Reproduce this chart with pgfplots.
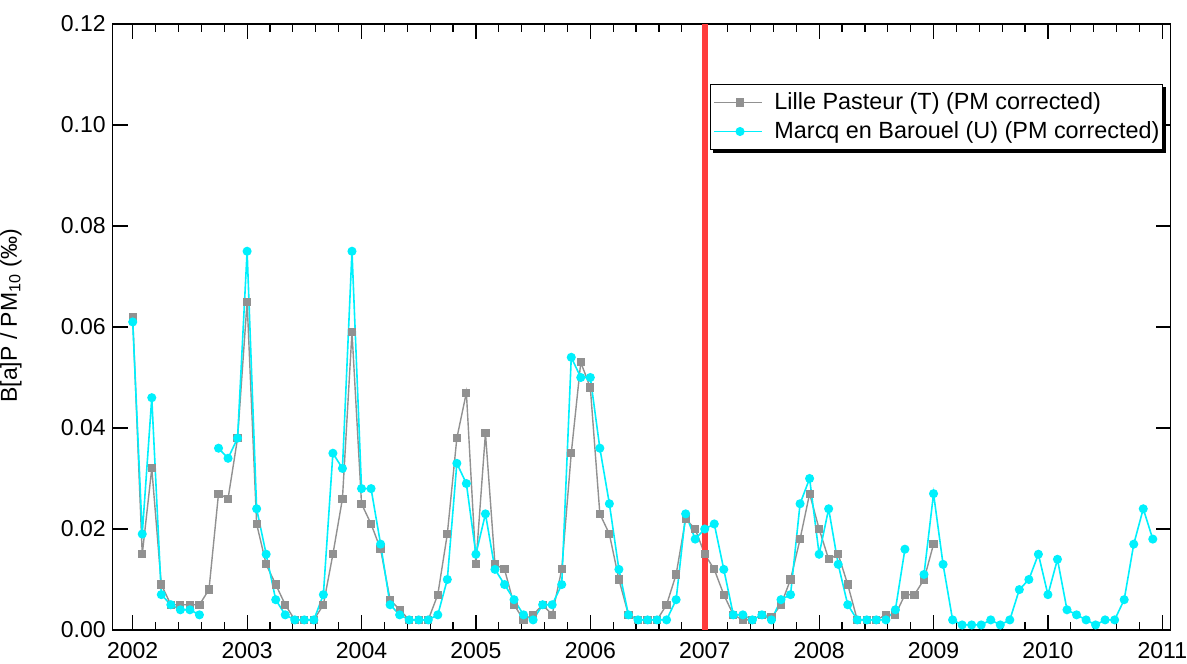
\documentclass[border=0pt]{standalone}
\usepackage{fontspec}
\setmainfont{Liberation Sans}
\usepackage{pgfplots}
\usepackage{pgfplotstable}
\pgfplotsset{compat=1.18}
\definecolor{lilgray}{RGB}{145,145,145}
\definecolor{marcq}{RGB}{0,240,252}
\definecolor{redline}{RGB}{255,60,60}
\newcommand{\cf}{\fontsize{11.5}{13.8}\selectfont}
\newcommand{\lf}{\fontsize{11.7}{14}\selectfont}

\pgfplotstableread{
m g c
0 0.062 0.061
1 0.015 0.019
2 0.032 0.046
3 0.009 0.007
4 0.005 0.005
5 0.005 0.004
6 0.005 0.004
7 0.005 0.003
8 0.008 nan
9 0.027 0.036
10 0.026 0.034
11 0.038 0.038
12 0.065 0.075
13 0.021 0.024
14 0.013 0.015
15 0.009 0.006
16 0.005 0.003
17 0.002 0.002
18 0.002 0.002
19 0.002 0.002
20 0.005 0.007
21 0.015 0.035
22 0.026 0.032
23 0.059 0.075
24 0.025 0.028
25 0.021 0.028
26 0.016 0.017
27 0.006 0.005
28 0.004 0.003
29 0.002 0.002
30 0.002 0.002
31 0.002 0.002
32 0.007 0.003
33 0.019 0.010
34 0.038 0.033
35 0.047 0.029
36 0.013 0.015
37 0.039 0.023
38 0.013 0.012
39 0.012 0.009
40 0.005 0.006
41 0.002 0.003
42 0.003 0.002
43 0.005 0.005
44 0.003 0.005
45 0.012 0.009
46 0.035 0.054
47 0.053 0.050
48 0.048 0.050
49 0.023 0.036
50 0.019 0.025
51 0.010 0.012
52 0.003 0.003
53 0.002 0.002
54 0.002 0.002
55 0.002 0.002
56 0.005 0.002
57 0.011 0.006
58 0.022 0.023
59 0.020 0.018
60 0.015 0.020
61 0.012 0.021
62 0.007 0.012
63 0.003 0.003
64 0.002 0.003
65 0.002 0.002
66 0.003 0.003
67 0.0025 0.002
68 0.005 0.006
69 0.010 0.007
70 0.018 0.025
71 0.027 0.030
72 0.020 0.015
73 0.014 0.024
74 0.015 0.013
75 0.009 0.005
76 0.002 0.002
77 0.002 0.002
78 0.002 0.002
79 0.003 0.002
80 0.003 0.004
81 0.007 0.016
82 0.007 nan
83 0.010 0.011
84 0.017 0.027
85 nan 0.013
86 nan 0.002
87 nan 0.001
88 nan 0.001
89 nan 0.001
90 nan 0.002
91 nan 0.001
92 nan 0.002
93 nan 0.008
94 nan 0.010
95 nan 0.015
96 nan 0.007
97 nan 0.014
98 nan 0.004
99 nan 0.003
100 nan 0.002
101 nan 0.001
102 nan 0.002
103 nan 0.002
104 nan 0.006
105 nan 0.017
106 nan 0.024
107 nan 0.018
}\datatable

\begin{document}
\begin{tikzpicture}
\begin{axis}[
  scale only axis,
  width=529pt, height=303pt,
  xmin=2001.825, xmax=2011.073,
  ymin=0, ymax=0.12,
  xtick={2002,2003,2004,2005,2006,2007,2008,2009,2010,2011},
  minor x tick num=4,
  ytick={0,0.02,0.04,0.06,0.08,0.10,0.12},
  tick align=inside,
  major tick length=7.5pt,
  minor tick length=4pt,
  every tick/.style={black, line width=0.6pt},
  axis line style={black, line width=0.7pt},
  xticklabel style={/pgf/number format/1000 sep={}, /pgf/number format/assume math mode=true, font=\cf, yshift=-2.5pt},
  yticklabel style={/pgf/number format/fixed, /pgf/number format/fixed zerofill, /pgf/number format/precision=2, /pgf/number format/assume math mode=true, font=\cf},
  ylabel={B[a]P / PM\textsubscript{10} (‰)},
  ylabel style={font=\cf, at={(axis description cs:-0.0857,0.3746)}, anchor=south west, rotate=0, inner sep=0pt},
  unbounded coords=jump,
  legend cell align=left,
  legend image code/.code={\path (-2pt,0cm) -- (0cm,0cm); \draw[mark repeat=2,mark phase=2] plot coordinates {(0cm,0cm) (0.38cm,0cm) (0.76cm,0cm)};},
  legend style={name=leg, font=\lf, at={(axis description cs:0.9927,0.9010)}, anchor=north east, draw=black, line width=0.6pt, fill=white, inner xsep=1.5pt, inner ysep=2pt, nodes={inner xsep=0pt}, row sep=0.5pt, /tikz/every odd column/.append style={column sep=6pt}},
]
\addplot[lilgray, line width=0.7pt, mark=square*, mark size=1.7pt, mark options={solid, fill=lilgray, draw=lilgray}] table[x expr=2002+\thisrow{m}/12, y=g] {\datatable};
\addlegendentry{Lille Pasteur (T) (PM corrected)}
\addplot[marcq, line width=0.8pt, mark=*, mark size=1.85pt, mark options={solid, fill=marcq, draw=marcq}] table[x expr=2002+\thisrow{m}/12, y=c] {\datatable};
\addlegendentry{Marcq en Barouel (U) (PM corrected)}
\addplot[redline, line width=3pt, forget plot] coordinates {(2007,0) (2007,0.12)};
\end{axis}
\fill[black] ([yshift=-1.4pt]leg.south east) rectangle ([xshift=1.4pt,yshift=-1.4pt]leg.north east);
\fill[black] ([xshift=1.4pt,yshift=-1.4pt]leg.south west) rectangle (leg.south east);
\pgfresetboundingbox
\path[use as bounding box] ([xshift=-56.35pt,yshift=-17pt]current axis.south west) rectangle ([xshift=8.15pt,yshift=12pt]current axis.north east);
\end{tikzpicture}
\end{document}
